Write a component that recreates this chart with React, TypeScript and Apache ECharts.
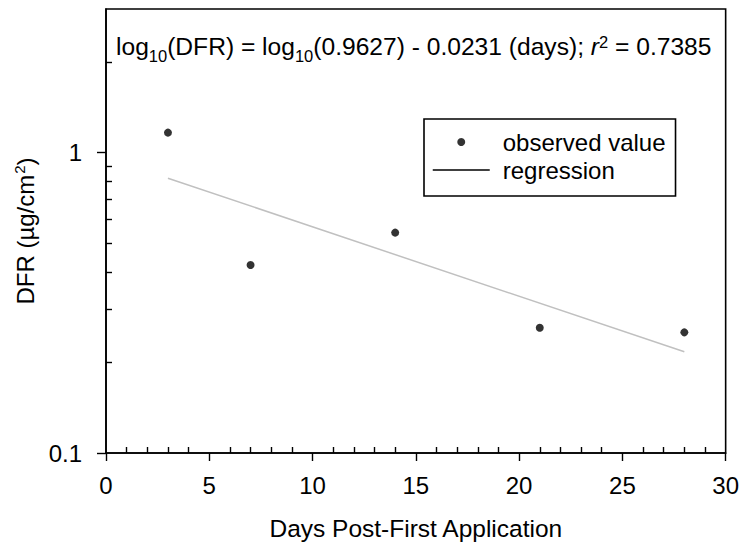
import React, { useEffect, useRef } from 'react';
import * as echarts from 'echarts';

const FONT = '"Liberation Sans", Arial, Helvetica, sans-serif';

// Observed values
const days = [3, 7, 14, 21, 28];
const dfrValues = [1.164, 0.422, 0.541, 0.261, 0.252];

// Regression line endpoints
const regressionDays = [3, 28];
const regressionValues = [0.8206, 0.2171];

// Axis ticks
const xMajorTicks = [0, 5, 10, 15, 20, 25, 30];
const xMinorTicks = [1, 2, 3, 4, 6, 7, 8, 9, 11, 12, 13, 14, 16, 17, 18, 19, 21, 22, 23, 24, 26, 27, 28, 29];
const yMajorTicks = [0.1, 1];
const yMinorTicks = [0.2, 0.3, 0.4, 0.5, 0.6, 0.7, 0.8, 0.9, 2];

const equationText =
  '{m|log}{sub|10}{m|(DFR) = log}{sub|10}{m|(0.9627) - 0.0231 (days); }{it|r}{sup|2}{m| = 0.7385}';

export default function App() {
  const ref = useRef<HTMLDivElement>(null);

  useEffect(() => {
    document.body.style.margin = '0';
    const chart = echarts.init(ref.current!, null, { renderer: 'svg' });
    const axisLine = { show: true, lineStyle: { color: '#000', width: 1.6 } };
    const tickStyle = { color: '#000', width: 1.4 };
    chart.setOption({
      animation: false,
      backgroundColor: '#fff',
      textStyle: { fontFamily: FONT },
      grid: {
        left: 106,
        top: 9,
        right: 14,
        bottom: 90,
        show: true,
        borderColor: '#000',
        borderWidth: 1.6,
        backgroundColor: 'transparent',
      },
      xAxis: [
        {
          type: 'value',
          min: 0,
          max: 30,
          interval: 5,
          position: 'bottom',
          name: 'Days Post-First Application',
          nameLocation: 'middle',
          nameGap: 63,
          nameTextStyle: { fontSize: 24.5, color: '#000', fontFamily: FONT },
          axisLine,
          axisTick: { show: true, inside: false, length: 8, customValues: xMajorTicks, lineStyle: tickStyle },
          axisLabel: { fontSize: 24, color: '#000', margin: 20, fontFamily: FONT, customValues: xMajorTicks },
          splitLine: { show: false },
        },
        {
          type: 'value',
          min: 0,
          max: 30,
          position: 'bottom',
          axisLine: { show: false },
          axisTick: { show: true, inside: true, length: 6, customValues: xMinorTicks, lineStyle: tickStyle },
          axisLabel: { show: false },
          splitLine: { show: false },
        },
      ],
      yAxis: [
        {
          type: 'log',
          logBase: 10,
          min: 0.1,
          max: 3,
          position: 'left',
          name: '{m|DFR (µg/cm}{sup|2}{m|)}',
          nameLocation: 'middle',
          nameGap: 62,
          nameTextStyle: {
            fontSize: 24,
            color: '#000',
            fontFamily: FONT,
            rich: {
              m: { fontSize: 24, fontFamily: FONT, color: '#000', lineHeight: 30 },
              sup: { fontSize: 15, fontFamily: FONT, color: '#000', verticalAlign: 'top', padding: [1, 0, 0, 1] },
            },
          },
          axisLine,
          axisTick: { show: true, inside: false, length: 9, customValues: yMajorTicks, lineStyle: tickStyle },
          axisLabel: {
            fontSize: 24,
            color: '#000',
            margin: 24,
            fontFamily: FONT,
            customValues: yMajorTicks,
            formatter: (v: number) => String(+Number(v).toPrecision(6)),
          },
          splitLine: { show: false },
          minorTick: { show: false },
        },
        {
          type: 'log',
          logBase: 10,
          min: 0.1,
          max: 3,
          position: 'left',
          axisLine: { show: false },
          axisTick: { show: true, inside: true, length: 6, customValues: yMinorTicks, lineStyle: tickStyle },
          axisLabel: { show: false },
          splitLine: { show: false },
        },
      ],
      legend: {
        orient: 'vertical',
        left: 424,
        top: 119,
        padding: [11, 10, 14, 8],
        itemGap: 4,
        itemWidth: 57,
        itemHeight: 8,
        borderColor: '#000',
        borderWidth: 1.6,
        backgroundColor: '#fff',
        textStyle: { fontSize: 24, color: '#000', fontFamily: FONT, padding: [0, 0, 0, 8] },
        data: [
          { name: 'observed value', icon: 'circle', itemStyle: { color: '#000' } },
          {
            name: 'regression',
            itemStyle: { color: 'rgba(0,0,0,0)', borderWidth: 0, opacity: 0 },
            lineStyle: { color: '#000', width: 1.5, opacity: 1 },
          },
        ],
      },
      graphic: [
        {
          type: 'text',
          x: 116,
          y: 29,
          style: {
            text: equationText,
            fill: '#000',
            rich: {
              m: { fontSize: 24.6, fontFamily: FONT, fill: '#000', lineHeight: 35 },
              it: { fontSize: 24.6, fontFamily: FONT, fill: '#000', fontStyle: 'italic', lineHeight: 35 },
              sub: { fontSize: 16.5, fontFamily: FONT, fill: '#000', verticalAlign: 'bottom' },
              sup: { fontSize: 16.5, fontFamily: FONT, fill: '#000', verticalAlign: 'top', padding: [4, 0, 0, 0] },
            },
          },
          z: 100,
        },
      ],
      series: [
        {
          name: 'observed value',
          type: 'scatter',
          xAxisIndex: 0,
          yAxisIndex: 0,
          symbol: 'circle',
          symbolSize: 8,
          itemStyle: { color: '#000' },
          data: days.map((d, i) => [d, dfrValues[i]]),
          z: 5,
        },
        {
          name: 'regression',
          type: 'line',
          xAxisIndex: 0,
          yAxisIndex: 0,
          symbol: 'none',
          showSymbol: false,
          itemStyle: { color: '#c0c0c0' },
          lineStyle: { color: '#c0c0c0', width: 1.5 },
          data: regressionDays.map((d, i) => [d, regressionValues[i]]),
          z: 3,
        },
      ],
    });
    return () => chart.dispose();
  }, []);

  return <div ref={ref} style={{ width: 742, height: 546, background: '#fff' }} />;
}
